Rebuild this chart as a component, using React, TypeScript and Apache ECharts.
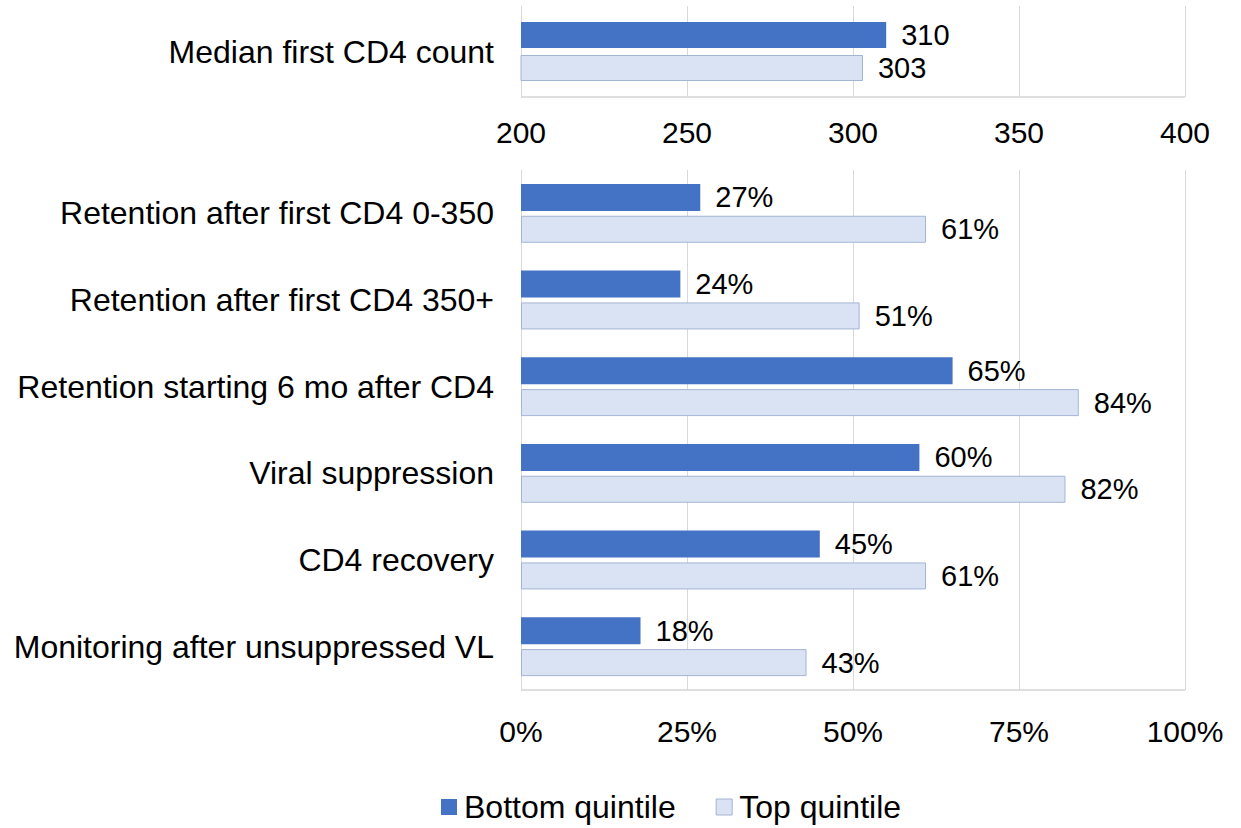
import React, { useEffect, useRef } from "react";
import * as echarts from "echarts";

const topCategories = ["Median first CD4 count"];
const topBottomQuintile = [310];
const topTopQuintile = [303];
const topTicks = [200, 250, 300, 350, 400];

const categories = [
  "Retention after first CD4 0-350",
  "Retention after first CD4 350+",
  "Retention starting 6 mo after CD4",
  "Viral suppression",
  "CD4 recovery",
  "Monitoring after unsuppressed VL",
];
const bottomQuintile = [27, 24, 65, 60, 45, 18];
const topQuintile = [61, 51, 84, 82, 61, 43];
const seriesNames = ["Bottom quintile", "Top quintile"];

const FONT = "Liberation Sans, Arial, sans-serif";
const BLUE = "#4472C4";
const LIGHT = "#DAE3F3";
const LIGHT_BORDER = "#A3B4D4";
const LEFT = 521;
const RIGHT = 56;

export default function App() {
  const ref = useRef<HTMLDivElement>(null);
  useEffect(() => {
    const chart = echarts.init(ref.current!, null, { renderer: "svg" });
    const labelStyle = {
      show: true,
      position: "right" as const,
      distance: 15,
      color: "#000",
      fontSize: 29,
      fontFamily: FONT,
    };
    chart.setOption({
      animation: false,
      textStyle: { fontFamily: FONT },
      legend: {
        data: [
          { name: seriesNames[0], itemStyle: { color: BLUE } },
          { name: seriesNames[1], itemStyle: { color: LIGHT, borderColor: LIGHT_BORDER, borderWidth: 1 } },
        ],
        left: 441,
        top: 789,
        padding: 0,
        itemWidth: 16,
        itemHeight: 16,
        itemGap: 40,
        textStyle: { fontSize: 32, lineHeight: 36, color: "#000", fontFamily: FONT, padding: [0, 0, 0, 2] },
        icon: "rect",
      },
      grid: [
        { left: LEFT, right: RIGHT, top: 6, height: 91 },
        { left: LEFT, right: RIGHT, top: 170, height: 520 },
      ],
      xAxis: [
        {
          gridIndex: 0,
          type: "value",
          min: topTicks[0],
          max: topTicks[topTicks.length - 1],
          interval: 50,
          axisLine: { show: false },
          axisTick: { show: false },
          splitLine: { show: true, lineStyle: { color: "#D9D9D9", width: 1 } },
          axisLabel: { fontSize: 30, color: "#000", margin: 20, fontFamily: FONT },
        },
        {
          gridIndex: 1,
          type: "value",
          min: 0,
          max: 100,
          interval: 25,
          axisLine: { show: false },
          axisTick: { show: false },
          splitLine: { show: true, lineStyle: { color: "#D9D9D9", width: 1 } },
          axisLabel: { fontSize: 30, color: "#000", margin: 26, fontFamily: FONT, formatter: "{value}%" },
        },
      ],
      yAxis: [
        {
          gridIndex: 0,
          type: "category",
          data: topCategories,
          inverse: true,
          axisLine: { show: true, lineStyle: { color: "#D9D9D9" } },
          axisTick: { show: false },
          axisLabel: { fontSize: 32, color: "#000", margin: 27, fontFamily: FONT },
        },
        {
          gridIndex: 1,
          type: "category",
          data: categories,
          inverse: true,
          axisLine: { show: true, lineStyle: { color: "#D9D9D9" } },
          axisTick: { show: false },
          axisLabel: { fontSize: 32, color: "#000", margin: 27, fontFamily: FONT },
        },
      ],
      graphic: [
        { type: "line", shape: { x1: LEFT, y1: 97, x2: 1241 - RIGHT, y2: 97 }, style: { stroke: "#BFBFBF", lineWidth: 1 } },
        { type: "line", shape: { x1: LEFT, y1: 690, x2: 1241 - RIGHT, y2: 690 }, style: { stroke: "#BFBFBF", lineWidth: 1 } },
      ],
      series: [
        {
          name: seriesNames[0],
          type: "bar",
          xAxisIndex: 0,
          yAxisIndex: 0,
          data: topBottomQuintile,
          barWidth: 26,
          barGap: "27%",
          itemStyle: { color: BLUE },
          label: { ...labelStyle },
        },
        {
          name: seriesNames[1],
          type: "bar",
          xAxisIndex: 0,
          yAxisIndex: 0,
          data: topTopQuintile,
          barWidth: 26,
          barGap: "27%",
          itemStyle: { color: LIGHT, borderColor: LIGHT_BORDER, borderWidth: 1 },
          label: { ...labelStyle },
        },
        {
          name: seriesNames[0],
          type: "bar",
          xAxisIndex: 1,
          yAxisIndex: 1,
          data: bottomQuintile,
          barWidth: 27,
          barGap: "18%",
          itemStyle: { color: BLUE },
          label: { ...labelStyle, formatter: "{c}%" },
        },
        {
          name: seriesNames[1],
          type: "bar",
          xAxisIndex: 1,
          yAxisIndex: 1,
          data: topQuintile,
          barWidth: 27,
          barGap: "18%",
          itemStyle: { color: LIGHT, borderColor: LIGHT_BORDER, borderWidth: 1 },
          label: { ...labelStyle, formatter: "{c}%" },
        },
      ],
    });
    return () => chart.dispose();
  }, []);
  return (
    <div
      ref={ref}
      style={{ position: "absolute", left: 0, top: 0, width: 1241, height: 828, background: "#fff" }}
    />
  );
}
